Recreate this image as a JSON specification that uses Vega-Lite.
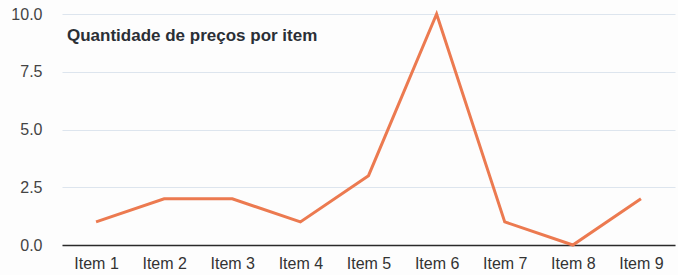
{
  "$schema": "https://vega.github.io/schema/vega-lite/v6.json",
  "width": 613,
  "height": 231,
  "autosize": "none",
  "padding": {"left": 62, "top": 14, "right": 3, "bottom": 30},
  "background": "#fdfdfd",
  "title": {
    "text": "Quantidade de preços por item",
    "anchor": "start",
    "frame": "group",
    "orient": "top",
    "offset": -39,
    "dx": 5,
    "font": "Liberation Sans",
    "fontSize": 17,
    "fontWeight": "bold",
    "color": "#2b2f36"
  },
  "data": {
    "values": [
      {"item": "Item 1", "quantidade": 1},
      {"item": "Item 2", "quantidade": 2},
      {"item": "Item 3", "quantidade": 2},
      {"item": "Item 4", "quantidade": 1},
      {"item": "Item 5", "quantidade": 3},
      {"item": "Item 6", "quantidade": 10},
      {"item": "Item 7", "quantidade": 1},
      {"item": "Item 8", "quantidade": 0},
      {"item": "Item 9", "quantidade": 2}
    ]
  },
  "config": {
    "view": {"stroke": null},
    "font": "Liberation Sans"
  },
  "mark": {"type": "line", "color": "#ec7a50", "strokeWidth": 3, "strokeJoin": "miter"},
  "encoding": {
    "x": {
      "field": "item",
      "type": "ordinal",
      "scale": {"type": "point", "padding": 0.5},
      "axis": {
        "title": null,
        "labelAngle": 0,
        "ticks": false,
        "labelPadding": 10,
        "labelFontSize": 16,
        "labelColor": "#333",
        "domainColor": "#2a2a2a",
        "domainWidth": 1.5,
        "grid": false
      }
    },
    "y": {
      "field": "quantidade",
      "type": "quantitative",
      "scale": {"domain": [0, 10], "nice": false},
      "axis": {
        "title": null,
        "values": [0, 2.5, 5, 7.5, 10],
        "format": ".1f",
        "domain": false,
        "ticks": false,
        "labelPadding": 20,
        "labelFontSize": 16,
        "labelColor": "#444",
        "gridColor": "#dde5ee",
        "gridWidth": 1.2
      }
    }
  }
}
